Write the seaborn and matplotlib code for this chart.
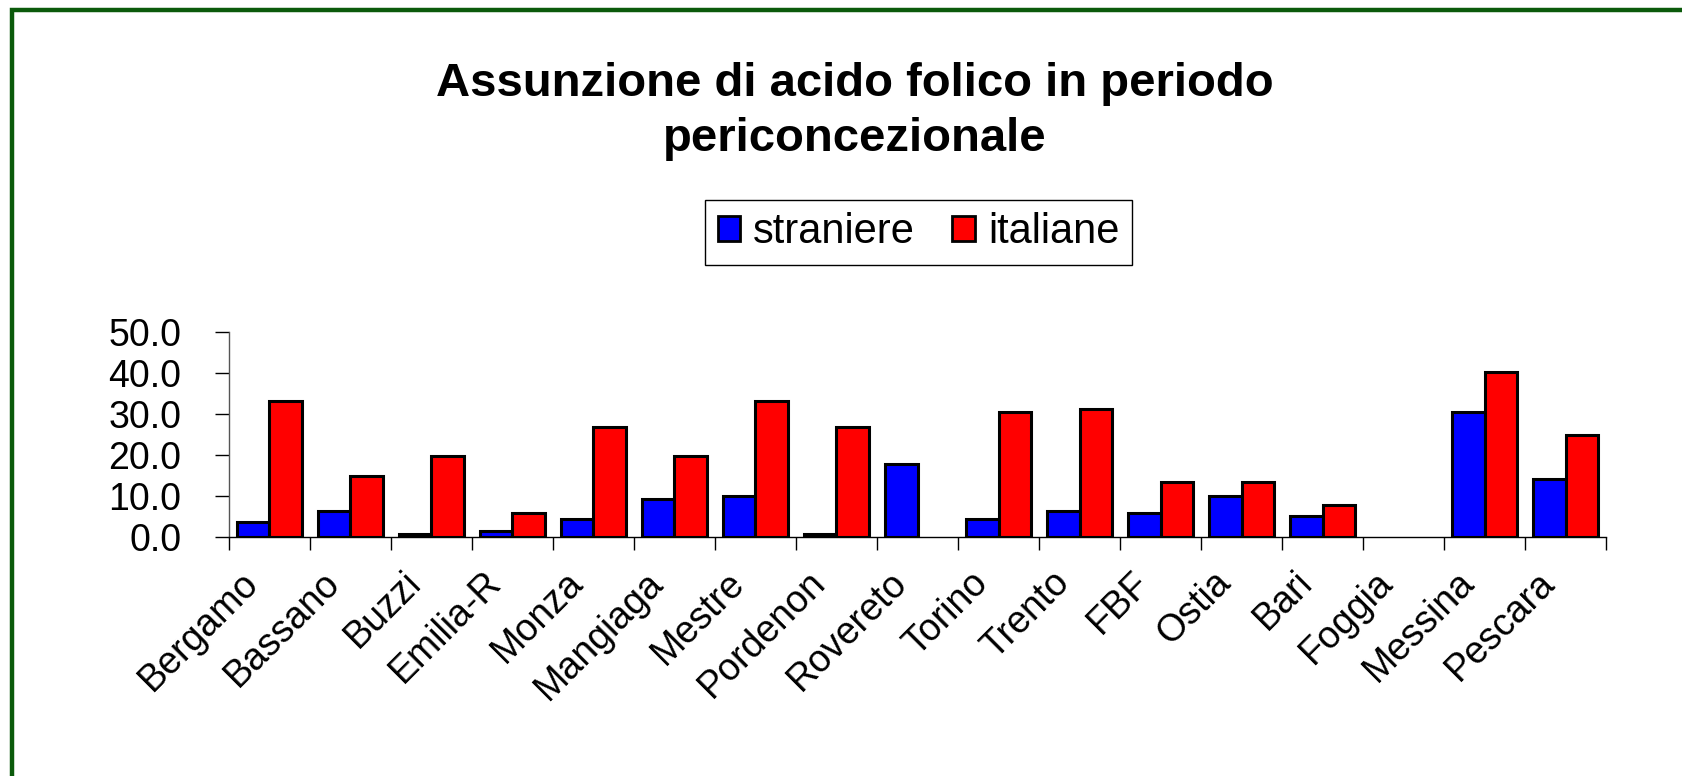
import numpy as np
import pandas as pd
import matplotlib
matplotlib.use("Agg")
import matplotlib.pyplot as plt
import seaborn as sns
from matplotlib.patches import Patch, Rectangle
from matplotlib.ticker import FormatStrFormatter, FixedLocator

# Data (percent)
centri = ["Bergamo", "Bassano", "Buzzi", "Emilia-R", "Monza", "Mangiaga", "Mestre",
          "Pordenon", "Rovereto", "Torino", "Trento", "FBF", "Ostia", "Bari",
          "Foggia", "Messina", "Pescara"]
straniere = [3.6, 6.4, 0.8, 1.5, 4.4, 9.3, 10.0, 0.8, 17.7, 4.4, 6.4, 5.8, 10.0, 5.0,
             np.nan, 30.5, 14.2]
italiane = [33.2, 14.9, 19.8, 5.8, 26.8, 19.8, 33.2, 26.8, np.nan, 30.5, 31.1, 13.5,
            13.5, 7.9, np.nan, 40.2, 24.8]
gruppi = ["straniere", "italiane"]
colori = {"straniere": "#0000FF", "italiane": "#FF0000"}
yticks = [0, 10, 20, 30, 40, 50]

df = pd.DataFrame({
    "centro": centri * 2,
    "gruppo": ["straniere"] * len(centri) + ["italiane"] * len(centri),
    "valore": straniere + italiane,
})

sns.set_style("white")
plt.rcParams["font.family"] = ["Liberation Sans", "DejaVu Sans"]
plt.rcParams["text.color"] = "black"
plt.rcParams["xtick.color"] = "black"
plt.rcParams["ytick.color"] = "black"

fig = plt.figure(figsize=(16.82, 7.76), dpi=100)
ax = fig.add_axes([0.136, 0.308, 0.819, 0.2645])

sns.barplot(data=df, x="centro", y="valore", hue="gruppo", order=centri,
            hue_order=gruppi, palette=colori, saturation=1, edgecolor="black",
            linewidth=2.2, width=0.8, errorbar=None, ax=ax)
ax.get_legend().remove()

ax.set_xlim(-0.5, len(centri) - 0.5)
ax.set_ylim(0, 50)
ax.set_yticks(yticks)
ax.yaxis.set_major_formatter(FormatStrFormatter("%.1f"))
ax.set_xlabel("")
ax.set_ylabel("")

# rotated labels end a little left of each category centre (as in Excel),
# tick marks sit on the category boundaries
ax.set_xticks(np.arange(len(centri)) - 0.2)
ax.set_xticklabels(centri, rotation=45, ha="right", rotation_mode="anchor",
                   va="center", fontsize=27)
ax.xaxis.set_minor_locator(FixedLocator(np.arange(-0.5, len(centri), 1.0)))
ax.tick_params(axis="x", which="major", length=0, pad=29)
ax.tick_params(axis="x", which="minor", length=9, width=1, color="black",
               direction="out", bottom=True)
ax.tick_params(axis="y", length=10, width=1, color="black", direction="out",
               left=True, labelsize=27, pad=24)

for side in ["top", "right"]:
    ax.spines[side].set_visible(False)
ax.spines["left"].set_color("#555555")
ax.spines["bottom"].set_color("black")
ax.spines["left"].set_linewidth(1)
ax.spines["bottom"].set_linewidth(1)

fig.text(0.508, 0.856, "Assunzione di acido folico in periodo\npericoncezionale",
         ha="center", va="center", fontsize=34, fontweight="bold", linespacing=1.32)

handles = [Patch(facecolor=colori[g], edgecolor="black", linewidth=2) for g in gruppi]
fig.legend(handles, gruppi, loc="center", bbox_to_anchor=(0.546, 0.701), ncol=2,
           fontsize=30, frameon=True, fancybox=False, edgecolor="black",
           framealpha=1, handlelength=0.55, handleheight=0.55, handletextpad=0.3,
           columnspacing=0.9, borderpad=0.3)

# dark green frame, visible on the left and top only
fig.patches.append(Rectangle((12 / 1682, -0.05), 1.1, 0.05 + 1 - 10 / 776,
                             transform=fig.transFigure, fill=False,
                             edgecolor="#0B5A0B", linewidth=3.2))

fig.savefig("out.png", dpi=100)
